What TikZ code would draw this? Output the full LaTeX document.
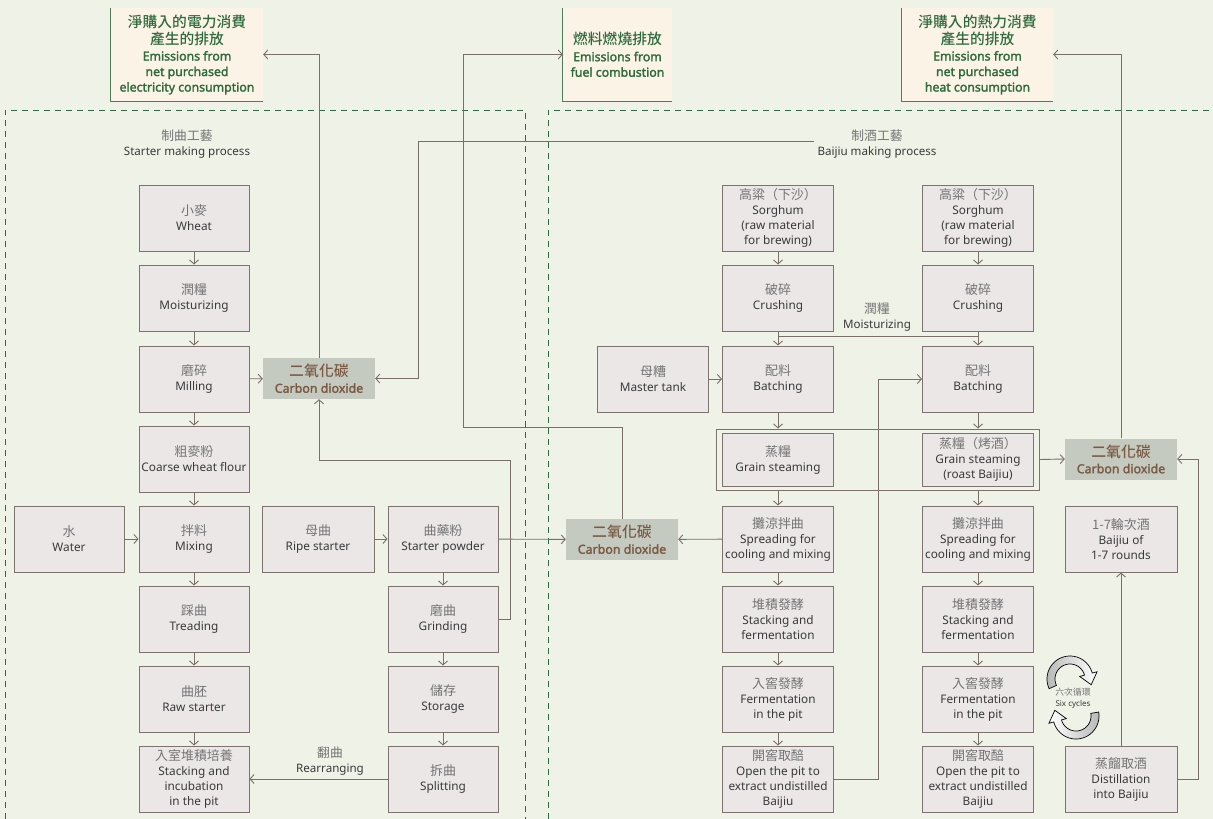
\documentclass[tikz,border=0pt]{standalone}
\usepackage{fontspec}
\setmainfont{Noto Sans}
\IfFontExistsTF{Noto Sans Bold}{\newfontfamily\hb{Noto Sans Bold}}{\newfontfamily\hb{Noto Sans}[FakeBold=2]}
\newfontfamily\cjk{Noto Sans CJK TC}[Scale=1.1]
\IfFontExistsTF{Noto Sans CJK TC Medium}{\newfontfamily\cjkh{Noto Sans CJK TC Medium}[Scale=1.2]}{\newfontfamily\cjkh{Noto Sans CJK TC}[Scale=1.2,FakeBold=0.6]}
\usetikzlibrary{arrows.meta,calc,fit}
\definecolor{bg}{HTML}{EFF2E6}
\definecolor{boxfill}{HTML}{EBE7E6}
\definecolor{boxline}{HTML}{7D726D}
\definecolor{lnc}{HTML}{7A6E69}
\definecolor{txt}{HTML}{3A3A3A}
\definecolor{zhtxt}{HTML}{747474}
\definecolor{co2fill}{HTML}{C4CABF}
\definecolor{co2txt}{HTML}{7B5A44}
\definecolor{headfill}{HTML}{FCF3E7}
\definecolor{headgreen}{HTML}{2E6B3E}
\definecolor{headedge}{HTML}{4F7D57}
\definecolor{dashgreen}{HTML}{2E6B45}
\newcommand\zh[1]{{\cjk\color{zhtxt}#1}}
\newcommand\zhm[1]{{\cjkh #1}}
\begin{document}
\begin{tikzpicture}[x=1pt,y=-1pt,
  box/.style={draw=boxline,fill=boxfill,line width=1pt,minimum width=110pt,minimum height=66pt,inner sep=1pt,align=center,text=txt,font=\fontsize{11.8}{15}\selectfont},
  rbox/.style={box,minimum width=111pt},
  co2/.style={fill=co2fill,minimum width=112pt,minimum height=41pt,inner sep=1pt,align=center,text=co2txt,font=\fontsize{12.4}{16}\selectfont\hb},
  head/.style={fill=headfill,minimum height=93pt,inner sep=1pt,align=center,text=headgreen,font=\fontsize{12.3}{15.5}\selectfont\hb},
  arr/.style={draw=lnc,line width=0.9pt,-{Straight Barb[length=4pt,width=9pt]}},
  ln/.style={draw=lnc,line width=0.9pt},
  lbl/.style={align=center,text=txt,font=\fontsize{11.6}{15}\selectfont},
  hedge/.style={draw=headedge,line width=1.2pt},
  region/.style={draw=dashgreen,line width=1pt,dash pattern=on 6pt off 5pt},
  cyc/.style={draw=black,line width=0.7pt}
]
\fill[bg] (0,0) rectangle (1213,819);
\useasboundingbox (0,0) rectangle (1213,819);
% regions
\draw[region] (5,830) -- (5,110) -- (525,110) -- (525,830);
\draw[region] (548,830) -- (548,110) -- (1225,110);

% headers
\node[head,minimum width=152pt] (helec) at (187,54.5) {\zhm{淨購入的電力消費}\\[1.5pt]\zhm{產生的排放}\\[1pt]Emissions from\\net purchased\\electricity consumption};
\node[head,minimum width=109pt] (hfuel) at (617.5,54.5) {\zhm{燃料燃燒排放}\\[1pt]Emissions from\\fuel combustion};
\node[head,minimum width=151pt] (hheat) at (977.5,54.5) {\zhm{淨購入的熱力消費}\\[1.5pt]\zhm{產生的排放}\\[1pt]Emissions from\\net purchased\\heat consumption};
\draw[hedge] (helec.north west) -- (helec.south west) -- (helec.south east);
\draw[hedge] (hfuel.north west) -- (hfuel.south west) -- (hfuel.south east);
\draw[hedge] (hheat.north west) -- (hheat.south west) -- (hheat.south east);

% titles
\node[lbl] (tstart) at (187,144) {\zh{制曲工藝}\\Starter making process};
\node[lbl] (tbai) at (877,144) {\zh{制酒工藝}\\Baijiu making process};

% left process
\node[box] (wheat) at (194,218) {\zh{小麥}\\Wheat};
\node[box] (moist) at (194,298) {\zh{潤糧}\\Moisturizing};
\node[box] (mill) at (194,379) {\zh{磨碎}\\Milling};
\node[box] (coarse) at (194,459) {\zh{粗麥粉}\\Coarse wheat flour};
\node[box] (mix) at (194,539) {\zh{拌料}\\Mixing};
\node[box] (tread) at (194,619) {\zh{踩曲}\\Treading};
\node[box] (raw) at (194,699) {\zh{曲胚}\\Raw starter};
\node[box] (stackinc) at (194,779) {\zh{入室堆積培養}\\Stacking and\\incubation\\in the pit};
\node[box] (water) at (69,539) {\zh{水}\\Water};
\node[box,minimum width=112pt] (ripe) at (318,539) {\zh{母曲}\\Ripe starter};
\node[box] (powder) at (443,539) {\zh{曲藥粉}\\Starter powder};
\node[box] (grind) at (443,619) {\zh{磨曲}\\Grinding};
\node[box] (store) at (443,699) {\zh{儲存}\\Storage};
\node[box] (split) at (443,779) {\zh{拆曲}\\Splitting};

% CO2
\node[co2] (co2a) at (319,378.5) {\zhm{二氧化碳}\\Carbon dioxide};
\node[co2] (co2b) at (622,539.5) {\zhm{二氧化碳}\\Carbon dioxide};
\node[co2] (co2c) at (1121,459) {\zhm{二氧化碳}\\Carbon dioxide};

% right process
\node[rbox] (sorgL) at (778,218) {\zh{高粱（下沙）}\\Sorghum\\(raw material\\for brewing)};
\node[rbox] (sorgR) at (978,218) {\zh{高粱（下沙）}\\Sorghum\\(raw material\\for brewing)};
\node[rbox] (crushL) at (778,298) {\zh{破碎}\\Crushing};
\node[rbox] (crushR) at (978,298) {\zh{破碎}\\Crushing};
\node[rbox] (batchL) at (778,379) {\zh{配料}\\Batching};
\node[rbox] (batchR) at (978,379) {\zh{配料}\\Batching};
\node[rbox,minimum height=53pt] (steamL) at (778,459.5) {\zh{蒸糧}\\Grain steaming};
\node[rbox,minimum height=53pt] (steamR) at (978,459.5) {\zh{蒸糧（烤酒）}\\Grain steaming\\(roast Baijiu)};
\node[draw=boxline,line width=1pt,fit=(steamL)(steamR),inner xsep=5.5pt,inner ysep=3.5pt] (steambox) {};
\node[rbox] (sprL) at (778,539) {\zh{攤涼拌曲}\\Spreading for\\cooling and mixing};
\node[rbox] (sprR) at (978,539) {\zh{攤涼拌曲}\\Spreading for\\cooling and mixing};
\node[rbox] (fermL) at (778,619) {\zh{堆積發酵}\\Stacking and\\fermentation};
\node[rbox] (fermR) at (978,619) {\zh{堆積發酵}\\Stacking and\\fermentation};
\node[rbox] (pitL) at (778,699) {\zh{入窖發酵}\\Fermentation\\in the pit};
\node[rbox] (pitR) at (978,699) {\zh{入窖發酵}\\Fermentation\\in the pit};
\node[rbox] (openL) at (778,779) {\zh{開窖取醅}\\Open the pit to\\extract undistilled\\Baijiu};
\node[rbox] (openR) at (978,779) {\zh{開窖取醅}\\Open the pit to\\extract undistilled\\Baijiu};
\node[rbox] (master) at (653,379) {\zh{母糟}\\Master tank};
\node[box,minimum width=112pt] (rounds) at (1121,539) {\zh{1-7輪次酒}\\Baijiu of\\1-7 rounds};
\node[box,minimum width=112pt] (dist) at (1121,779) {\zh{蒸餾取酒}\\Distillation\\into Baijiu};

% left connectors
\draw[arr] (wheat) -- (moist);
\draw[arr] (moist) -- (mill);
\draw[arr] (mill) -- (coarse);
\draw[arr] (coarse) -- (mix);
\draw[arr] (mix) -- (tread);
\draw[arr] (tread) -- (raw);
\draw[arr] (raw) -- (stackinc);
\draw[arr] (water) -- (mix);
\draw[arr] (ripe) -- (powder);
\draw[arr] (powder) -- (grind);
\draw[arr] (grind) -- (store);
\draw[arr] (store) -- (split);
\draw[arr] (split) -- (stackinc);
\node[lbl] (rearr) at (330,761) {\zh{翻曲}\\Rearranging};
\draw[arr] (mill) -- (co2a);
\draw[arr] (co2a.north) |- (helec.east);
\draw[arr] (grind.east) -- ++(12,0) |- ($(co2a.south)+(0,61)$) -- (co2a.south);
\draw[arr] ($(tbai.west)+(0,-3)$) -| ($(co2a.east)+(43,0)$) -- (co2a.east);
\draw[arr] (co2b.north) -- ++(0,-91) -| ($(hfuel.west)+(-99,0)$) -- (hfuel.west);
\draw[arr] (powder) -- (co2b);
\draw[arr] (sprL) -- (co2b);

% right connectors
\draw[arr] (sorgL) -- (crushL);
\draw[arr] (sorgR) -- (crushR);
\draw[arr] (crushL) -- (batchL);
\draw[arr] (crushR) -- (batchR);
\draw[ln] ($(crushL.south)+(0,5)$) -- ($(crushR.south)+(0,5)$);
\node[lbl] (moistlbl) at (877,317) {\zh{潤糧}\\Moisturizing};
\draw[arr] (batchL.south) -- (batchL.south |- steambox.north);
\draw[arr] (batchR.south) -- (batchR.south |- steambox.north);
\draw[arr] (steamL.south |- steambox.south) -- (sprL.north);
\draw[arr] (steamR.south |- steambox.south) -- (sprR.north);
\draw[arr] (sprL) -- (fermL);
\draw[arr] (sprR) -- (fermR);
\draw[arr] (fermL) -- (pitL);
\draw[arr] (fermR) -- (pitR);
\draw[arr] (pitL) -- (openL);
\draw[arr] (pitR) -- (openR);
\draw[arr] (master) -- (batchL);
\draw[arr] (openL.east) -- ++(44,0) |- (batchR.west);
\draw[arr] (steambox.east) -- (co2c.west);
\draw[arr] (co2c.north) |- (hheat.east);
\draw[arr] (dist.east) -- ++(21,0) |- (co2c.east);
\draw[arr] (dist) -- (rounds);

% six cycles icon
\draw[cyc,left color=gray!55,right color=white]
  plot[domain=155:345,samples=40] ({1070+23*cos(\x)},{679+23*sin(\x)})
  -- ({1070+28*cos(345)},{679+28*sin(345)})
  -- ({1070+19*cos(345)-11*sin(345)},{679+19*sin(345)+11*cos(345)})
  -- ({1070+10*cos(345)},{679+10*sin(345)})
  -- plot[domain=345:155,samples=40] ({1070+15*cos(\x)},{679+15*sin(\x)}) -- cycle;
\draw[cyc,left color=white,right color=gray!55]
  plot[domain=350:525,samples=40] ({1076+23*cos(\x)},{716+23*sin(\x)})
  -- ({1076+28*cos(525)},{716+28*sin(525)})
  -- ({1076+19*cos(525)-11*sin(525)},{716+19*sin(525)+11*cos(525)})
  -- ({1076+10*cos(525)},{716+10*sin(525)})
  -- plot[domain=525:350,samples=40] ({1076+15*cos(\x)},{716+15*sin(\x)}) -- cycle;
\node[align=center,text=txt,font=\fontsize{8}{11}\selectfont] (cyclbl) at (1073,698) {\zh{六次循環}\\Six cycles};
\end{tikzpicture}
\end{document}
